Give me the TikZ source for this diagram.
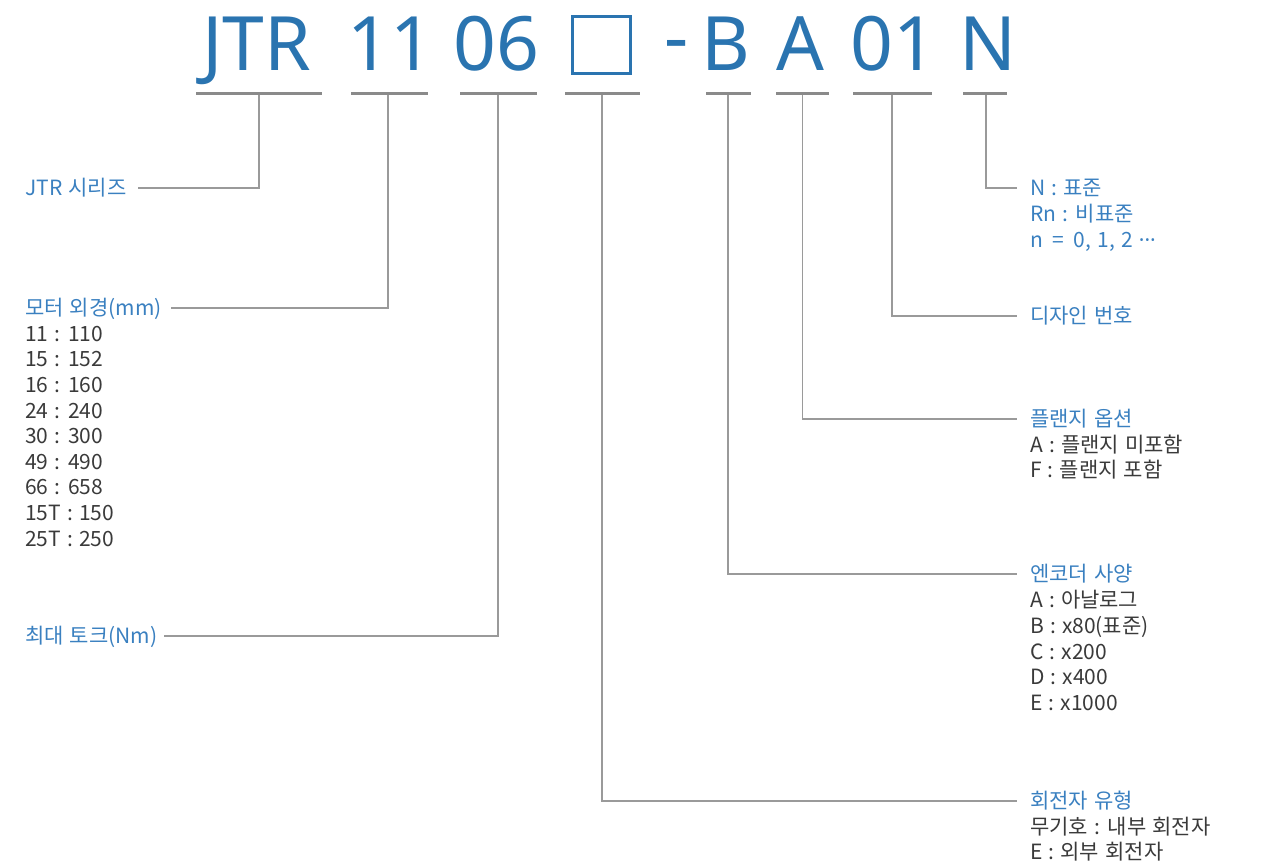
\documentclass[tikz,border=0pt]{standalone}
\usepackage{fontspec}
\setmainfont{Noto Sans CJK KR}[WordSpace=1.3]
\newfontfamily\hdfont{Noto Sans}
\definecolor{hdblue}{HTML}{2A74B0}
\definecolor{lblue}{HTML}{3A80C0}
\definecolor{tgray}{HTML}{3A3A3A}
\definecolor{ulgray}{HTML}{8A8A8A}
\definecolor{lngray}{HTML}{9A9A9A}
\begin{document}
\begin{tikzpicture}[x=1pt,y=-1pt,
  hd/.style={font=\hdfont\fontsize{75}{75}\selectfont, text=hdblue, inner sep=0pt, anchor=base},
  ul/.style={draw=ulgray, line width=3pt},
  conn/.style={draw=lngray, line width=1.3pt},
  ttl/.style={font=\fontsize{21}{24}\selectfont, text=lblue, inner sep=0pt, anchor=west, text height=15.5pt, text depth=0pt},
  itm/.style={font=\fontsize{21}{24}\selectfont, text=tgray, inner sep=0pt, anchor=west, text height=15.5pt, text depth=0pt}]
\useasboundingbox (0,0) rectangle (1262,868);
% header
\node[hd] (h1) at (256.5,70) {JTR};
\node[hd] (h2) at (390,70) {11};
\node[hd] (h3) at (496.5,70) {06};
\node[draw=hdblue, line width=2.6pt, minimum width=58.5pt, minimum height=57.5pt, inner sep=0pt] (h4) at (601.5,45) {};
\node[hd] (h5) at (677,63) {-};
\node[hd] (h6) at (726,70) {B};
\node[hd] (h7) at (800.5,70) {A};
\node[hd] (h8) at (893.5,70) {01};
\node[hd] (h9) at (987.5,70) {N};
% underlines
\draw[ul] (196,93) -- (322,93);
\draw[ul] (351,93) -- (428,93);
\draw[ul] (460,93) -- (537,93);
\draw[ul] (565,93) -- (640,93);
\draw[ul] (706,93) -- (751,93);
\draw[ul] (776,93) -- (829,93);
\draw[ul] (853,93) -- (932,93);
\draw[ul] (963,93) -- (1007,93);
\coordinate (t1) at (259,94.5);
\coordinate (t2) at (388,94.5);
\coordinate (t3) at (498,94.5);
\coordinate (t4) at (602,94.5);
\coordinate (t5) at (728,94.5);
\coordinate (t6) at (802.5,94.5);
\coordinate (t7) at (892,94.5);
\coordinate (t8) at (986,94.5);
% left labels
\node[ttl] (l1) at (25,188) {JTR 시리즈};
\node[ttl] (l2) at (25,308) {모터 외경(mm)};
\foreach \t [count=\i] in {11 : 110,15 : 152,16 : 160,24 : 240,30 : 300,49 : 490,66 : 658,15T : 150,25T : 250}
  \node[itm] (m\i) at (25,{308+25.6*\i}) {\t};
\node[ttl] (l3) at (25,636) {최대 토크(Nm)};
% right labels
\node[ttl] (r8) at (1030,188) {N : 표준};
\node[ttl] (r8b) at (1030,214) {Rn : 비표준};
\node[ttl] (r8c) at (1030,240) {n \,=\, 0, 1, 2 {\hdfont ···}};
\node[ttl] (r7) at (1030,316) {디자인 번호};
\node[ttl] (r6) at (1030,419) {플랜지 옵션};
\node[itm] (r6a) at (1030,444.5) {A : 플랜지 미포함};
\node[itm] (r6b) at (1030,470) {F : 플랜지 포함};
\node[ttl] (r5) at (1030,574) {엔코더 사양};
\node[itm] (r5a) at (1030,600) {A : 아날로그};
\node[itm] (r5b) at (1030,626) {B : x80(표준)};
\node[itm] (r5c) at (1030,651.5) {C : x200};
\node[itm] (r5d) at (1030,677) {D : x400};
\node[itm] (r5e) at (1030,703) {E : x1000};
\node[ttl] (r4) at (1030,801) {회전자 유형};
\node[itm] (r4a) at (1030,827) {무기호 : 내부 회전자};
\node[itm] (r4b) at (1030,852) {E : 외부 회전자};
% connectors
\draw[conn] (t1) |- ([xshift=11pt]l1.east);
\draw[conn] (t2) |- ([xshift=9pt]l2.east);
\draw[conn] (t3) |- ([xshift=6pt]l3.east);
\draw[conn] (t4) |- ([xshift=-13pt]r4.west);
\draw[conn] (t5) |- ([xshift=-13pt]r5.west);
\draw[conn] (t6) |- ([xshift=-13pt]r6.west);
\draw[conn] (t7) |- ([xshift=-13pt]r7.west);
\draw[conn] (t8) |- ([xshift=-13pt]r8.west);
\end{tikzpicture}
\end{document}
